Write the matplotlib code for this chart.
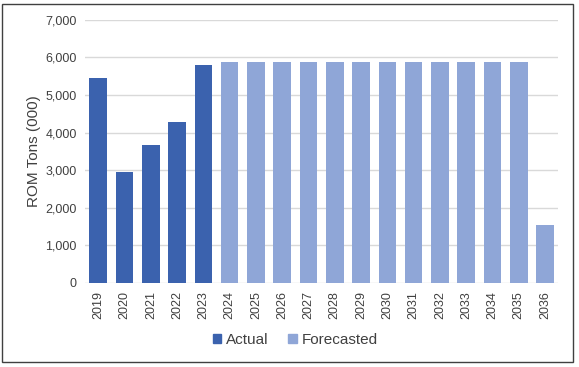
import matplotlib
matplotlib.use('Agg')
import matplotlib.pyplot as plt
from matplotlib.patches import Patch, Rectangle

plt.rcParams['font.family'] = ['Liberation Sans', 'DejaVu Sans']

years = [str(y) for y in range(2019, 2037)]
actual = [5450, 2960, 3670, 4290, 5800]
forecast = [5890] * 12 + [1550]
actual_color = '#3B62AE'
forecast_color = '#8FA6D7'

fig = plt.figure(figsize=(5.79, 3.67), dpi=100)
ax = fig.add_axes([0.147, 0.229, 0.817, 0.717])

x = list(range(len(years)))
ax.bar(x[:len(actual)], actual, width=0.67, color=actual_color, zorder=3)
ax.bar(x[len(actual):], forecast, width=0.67, color=forecast_color, zorder=3)

ax.set_ylim(0, 7000)
ax.set_xlim(-0.5, len(years) - 0.5)
ax.set_yticks(range(0, 7001, 1000))
ax.set_yticklabels([f'{v:,}' for v in range(0, 7001, 1000)])
ax.set_xticks(x)
ax.set_xticklabels(years, rotation=90)
ax.tick_params(axis='both', length=0, labelsize=9, colors='#404040')
ax.tick_params(axis='x', pad=6)
ax.tick_params(axis='y', pad=6)
ax.yaxis.grid(True, color='#D9D9D9', linewidth=1, zorder=0)
for s in ax.spines.values():
    s.set_visible(False)
ax.set_ylabel('ROM Tons (000)', fontsize=11, color='#404040', labelpad=3)

handles = [Patch(color=actual_color, label='Actual'),
           Patch(color=forecast_color, label='Forecasted')]
fig.legend(handles=handles, loc='center', bbox_to_anchor=(0.51, 0.073), ncol=2,
           frameon=False, fontsize=11, handlelength=0.55, handleheight=0.55,
           handletextpad=0.3, columnspacing=1.3, labelcolor='#404040')

fig.patches.append(Rectangle((0.004, 0.014), 0.985, 0.974, transform=fig.transFigure,
                             fill=False, edgecolor='#404040', linewidth=1))
fig.savefig('out.png', dpi=100)
